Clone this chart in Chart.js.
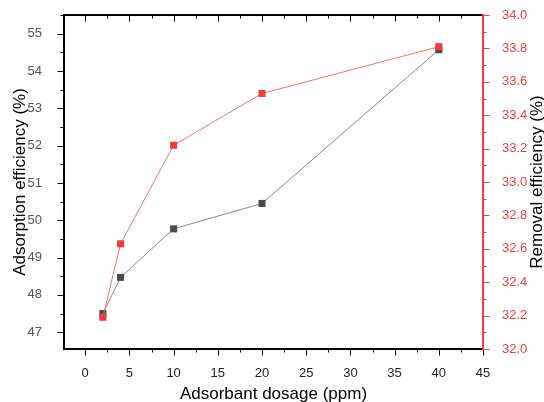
<!DOCTYPE html>
<html>
<head>
<meta charset="utf-8">
<script src="https://cdn.jsdelivr.net/npm/chart.js@4.4.1/dist/chart.umd.min.js"></script>
<style>
  html, body { margin: 0; padding: 0; background: #fff; }
  #wrap { width: 544px; height: 402px; position: relative; }
</style>
</head>
<body>
<div id="wrap"><canvas id="grafico"></canvas></div>
<script>
// datos
const dosage = [2, 4, 10, 20, 40];
const adsorption = [47.5, 48.47, 49.77, 50.45, 54.57];
const removal = [32.19, 32.63, 33.22, 33.53, 33.81];

const xTicks = [0, 5, 10, 15, 20, 25, 30, 35, 40, 45];
const leftTicks = [47, 48, 49, 50, 51, 52, 53, 54, 55];
const rightTicks = [32.0, 32.2, 32.4, 32.6, 32.8, 33.0, 33.2, 33.4, 33.6, 33.8, 34.0];

const titulos = {
  x: 'Adsorbant dosage (ppm)',
  y: 'Adsorption efficiency (%)',
  y2: 'Removal efficiency (%)'
};

const ROJO = '#f03c3c';
const FUENTE = "'Liberation Sans', Arial, sans-serif";

// ejes tipo Origin: lineas gruesas, ticks mayores y menores, titulos
const ejesPlugin = {
  id: 'ejes',
  afterDraw(chart) {
    const ctx = chart.ctx;
    const a = chart.chartArea;
    const x = chart.scales.x, yl = chart.scales.y, yr = chart.scales.y2;
    ctx.save();
    ctx.lineCap = 'square';

    function tickX(v, len, y0, dir) {
      const px = Math.round(x.getPixelForValue(v)) + 0.5;
      ctx.beginPath(); ctx.moveTo(px, y0); ctx.lineTo(px, y0 + dir * len); ctx.stroke();
    }
    function tickY(sc, v, len, x0, dir) {
      const py = Math.round(sc.getPixelForValue(v)) + 0.5;
      ctx.beginPath(); ctx.moveTo(x0, py); ctx.lineTo(x0 + dir * len, py); ctx.stroke();
    }

    ctx.strokeStyle = '#000';
    ctx.lineWidth = 1;
    xTicks.forEach(v => {
      tickX(v, 6, a.bottom, 1);
      tickX(v, 6, a.top, 1);
      if (v + 2.5 <= x.max) {
        tickX(v + 2.5, 3, a.bottom, 1);
        tickX(v + 2.5, 3, a.top, 1);
      }
    });

    leftTicks.forEach(v => {
      tickY(yl, v, 6, a.left, -1);
      if (v + 0.5 <= yl.max) tickY(yl, v + 0.5, 3, a.left, -1);
      if (v - 0.5 >= yl.min) tickY(yl, v - 0.5, 3, a.left, -1);
    });

    ctx.strokeStyle = ROJO;
    rightTicks.forEach(v => {
      tickY(yr, v, 6, a.right, 1);
      if (v + 0.1 <= yr.max + 1e-9) tickY(yr, v + 0.1, 3, a.right, 1);
    });

    // marco
    ctx.lineWidth = 2;
    ctx.strokeStyle = '#000';
    ctx.beginPath();
    ctx.moveTo(a.right, a.top); ctx.lineTo(a.left, a.top);
    ctx.lineTo(a.left, a.bottom); ctx.lineTo(a.right, a.bottom);
    ctx.stroke();
    ctx.strokeStyle = ROJO;
    ctx.beginPath();
    ctx.moveTo(a.right, a.top); ctx.lineTo(a.right, a.bottom);
    ctx.stroke();

    // titulos de ejes (los dos verticales leen de abajo hacia arriba)
    ctx.fillStyle = '#000';
    ctx.font = '17px ' + FUENTE;
    ctx.textAlign = 'center';
    ctx.textBaseline = 'middle';
    const cx = (a.left + a.right) / 2, cy = (a.top + a.bottom) / 2;
    ctx.fillText(titulos.x, cx, 394);
    [[titulos.y, 20], [titulos.y2, 537]].forEach(([t, px]) => {
      ctx.save();
      ctx.translate(px, cy);
      ctx.rotate(-Math.PI / 2);
      ctx.fillText(t, 0, 0);
      ctx.restore();
    });
    ctx.restore();
  }
};

function fijar(list) {
  return function (scale) {
    scale.ticks = list.map(v => ({ value: v }));
  };
}

// tamaño fijo de cada eje, sin margen extra por las etiquetas de los extremos
function medida(prop, valor) {
  return function (s) {
    s[prop] = valor;
    s.paddingTop = 0; s.paddingBottom = 0;
    s.paddingLeft = 0; s.paddingRight = 0;
  };
}

new Chart(document.getElementById('grafico'), {
  type: 'line',
  data: {
    datasets: [
      {
        label: 'Adsorption efficiency',
        data: dosage.map((d, i) => ({ x: d, y: adsorption[i] })),
        yAxisID: 'y',
        borderColor: '#8a8a8a',
        borderWidth: 1,
        pointStyle: 'rect',
        pointRadius: 5,
        pointBorderWidth: 0,
        pointBackgroundColor: '#4a4a4a',
        order: 2
      },
      {
        label: 'Removal efficiency',
        data: dosage.map((d, i) => ({ x: d, y: removal[i] })),
        yAxisID: 'y2',
        borderColor: '#f47070',
        borderWidth: 1,
        pointStyle: 'rect',
        pointRadius: 5,
        pointBorderWidth: 0,
        pointBackgroundColor: ROJO,
        order: 1
      }
    ]
  },
  options: {
    responsive: true,
    maintainAspectRatio: false,
    animation: false,
    layout: { autoPadding: false, padding: { top: 15, right: 0, left: 0, bottom: 0 } },
    plugins: { legend: { display: false }, tooltip: { enabled: false } },
    scales: {
      x: {
        type: 'linear',
        min: -2.4,
        max: 45,
        afterBuildTicks: fijar(xTicks),
        afterFit: medida('height', 53),
        grid: { display: false },
        border: { display: false },
        ticks: { padding: 9, color: '#222', font: { family: FUENTE, size: 13 } }
      },
      y: {
        position: 'left',
        min: 46.55,
        max: 55.5,
        afterBuildTicks: fijar(leftTicks),
        afterFit: medida('width', 64),
        grid: { display: false },
        border: { display: false },
        ticks: { padding: 14, color: '#555', font: { family: FUENTE, size: 13 } }
      },
      y2: {
        position: 'right',
        min: 32,
        max: 34,
        afterBuildTicks: fijar(rightTicks),
        afterFit: medida('width', 61),
        grid: { display: false },
        border: { display: false },
        ticks: {
          padding: 11,
          color: ROJO,
          font: { family: FUENTE, size: 13 },
          callback: v => v.toFixed(1)
        }
      }
    }
  },
  plugins: [ejesPlugin]
});
</script>
</body>
</html>
